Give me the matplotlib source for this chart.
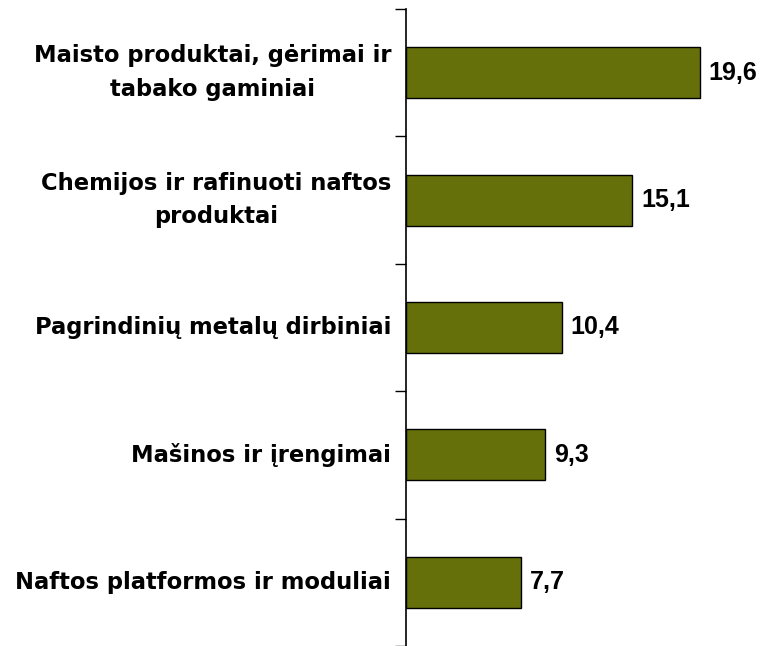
import matplotlib
matplotlib.use("Agg")
import matplotlib.pyplot as plt
from matplotlib import font_manager as fm
from matplotlib.transforms import offset_copy

categories = [
    "Maisto produktai, gėrimai ir\ntabako gaminiai",
    "Chemijos ir rafinuoti naftos\nproduktai",
    "Pagrindinių metalų dirbiniai",
    "Mašinos ir įrengimai",
    "Naftos platformos ir moduliai",
]
values = [19.6, 15.1, 10.4, 9.3, 7.7]
value_labels = ["19,6", "15,1", "10,4", "9,3", "7,7"]

# locate the regular-width Liberation Sans Bold (not Narrow)
arial_bold = None
for f in fm.fontManager.ttflist:
    if f.name == "Liberation Sans" and f.weight in (700, "bold") and f.style == "normal" \
            and "narrow" not in f.fname.lower():
        arial_bold = f.fname
        break
if arial_bold:
    val_font = fm.FontProperties(fname=arial_bold, size=18)
else:
    val_font = fm.FontProperties(family="DejaVu Sans", weight="bold", size=16)

cat_font = fm.FontProperties(family="DejaVu Sans", weight="bold", size=16.3)

fig = plt.figure(figsize=(7.64, 6.46), dpi=100)
ax = fig.add_axes([405.7 / 764, 0.0, 1 - 405.7 / 764, 1 - 9 / 646])

n = len(categories)
ypos = list(range(n))
ax.barh(ypos, values, height=0.4, color="#66700A", edgecolor="black", linewidth=1.0)
ax.set_ylim(n - 0.5, -0.5)
ax.set_xlim(0, (764 - 405.7) / 15)

for y, v, lab in zip(ypos, values, value_labels):
    ax.text(v + 0.6, y, lab, va="center", ha="left", fontproperties=val_font)

lab_tr = offset_copy(ax.get_yaxis_transform(), fig=fig, x=-14.5, y=0, units="dots")
for y, cat in zip(ypos, categories):
    ax.text(0, y, cat, transform=lab_tr, ha="right", va="center",
            multialignment="center", linespacing=1.6, fontproperties=cat_font)

ax.set_yticks([i + 0.5 for i in range(-1, n)])
ax.set_yticklabels([])
ax.tick_params(axis="y", which="major", direction="out", length=8, width=1)
ax.set_xticks([])
for s in ["top", "right", "bottom"]:
    ax.spines[s].set_visible(False)
ax.spines["left"].set_linewidth(1.2)

fig.savefig("out.png", dpi=100)
